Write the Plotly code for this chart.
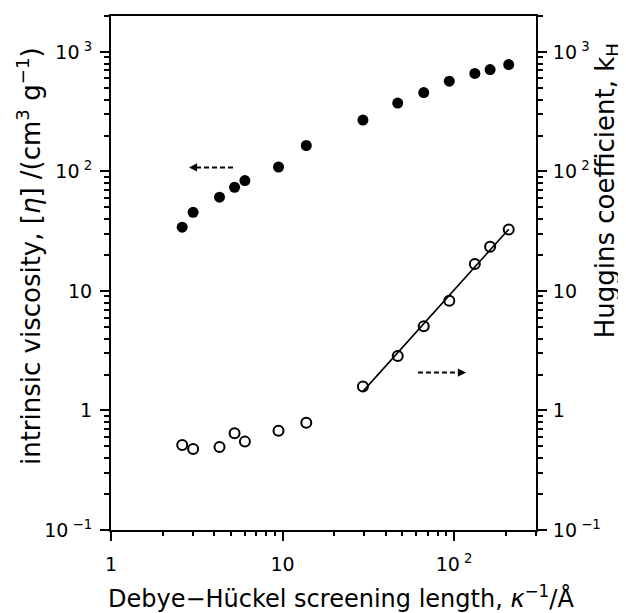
import numpy as np
import plotly.graph_objects as go

# screening length kappa^-1 / Angstrom
screening_length = [2.60, 3.01, 4.29, 5.25, 6.03, 9.47, 13.75, 29.4, 46.9, 66.5, 93.7, 132, 162, 208]
# intrinsic viscosity [eta] / (cm3 g-1)  (left axis, filled)
intrinsic_visc = [34.2, 45.5, 61, 73.8, 83.9, 109, 165, 269, 374, 457, 570, 661, 713, 785]
# Huggins coefficient kH (right axis, open)
huggins = [0.515, 0.477, 0.495, 0.644, 0.549, 0.678, 0.79, 1.59, 2.86, 5.08, 8.3, 16.8, 23.5, 32.7]

tick_vals = [0.1, 1, 10, 100, 1000]
y_tick_text = ["10<sup> \u22121</sup>", "1", "10", "10<sup> 2</sup>", "10<sup> 3</sup>"]
x_tick_vals = [1, 10, 100]
x_tick_text = ["1", "10", "10<sup> 2</sup>"]

FONT = "DejaVu Sans"

# power-law fit through the high screening-length Huggins points
fit_n = 7
lx = np.log10(screening_length[-fit_n:])
ly = np.log10(huggins[-fit_n:])
slope, icpt = np.polyfit(lx, ly, 1)
fit_x = [screening_length[-fit_n], screening_length[-1]]
fit_y = [10 ** (icpt + slope * np.log10(v)) for v in fit_x]

fig = go.Figure()
fig.add_trace(go.Scatter(x=screening_length, y=intrinsic_visc, mode="markers",
                         marker=dict(symbol="circle", size=11, color="black"),
                         showlegend=False))
fig.add_trace(go.Scatter(x=fit_x, y=fit_y, mode="lines", yaxis="y2",
                         line=dict(color="black", width=1.6), showlegend=False))
fig.add_trace(go.Scatter(x=screening_length, y=huggins, mode="markers", yaxis="y2",
                         marker=dict(symbol="circle-open", size=10, color="black",
                                     line=dict(width=2, color="black")),
                         showlegend=False))

minor_y = [m * 10 ** e for e in range(-1, 4) for m in range(2, 10) if m * 10 ** e <= 2000]
minor_x = [m * 10 ** e for e in range(0, 3) for m in range(2, 10) if m * 10 ** e <= 300]

axis_common = dict(type="log", showgrid=False, zeroline=False, showline=True,
                   linecolor="black", linewidth=2, ticks="outside", tickcolor="black",
                   tickwidth=1.5, ticklen=9,
                   tickfont=dict(family=FONT, size=19, color="black"))

# page offset of the plot div (browser body margin)
OFF = 8
W, H = 618, 605
L, R, T, B = 103, 90, 6, 83

fig.update_layout(
    width=W, height=H,
    margin=dict(l=L, r=R, t=T, b=B),
    paper_bgcolor="white", plot_bgcolor="white",
    font=dict(family=FONT, color="black"),
    xaxis=dict(**axis_common, range=[0, np.log10(300)], mirror=True,
               tickvals=x_tick_vals, ticktext=x_tick_text, ticklabelstandoff=7,
               minor=dict(tickvals=minor_x, ticks="outside", ticklen=4,
                          tickcolor="black", tickwidth=1.5)),
    yaxis=dict(**axis_common, range=[-1, np.log10(2000)],
               tickvals=tick_vals, ticktext=y_tick_text, ticklabelstandoff=4,
               minor=dict(tickvals=minor_y, ticks="outside", ticklen=5,
                          tickcolor="black", tickwidth=1.5)),
    yaxis2=dict(**axis_common, range=[-1, np.log10(2000)], overlaying="y", side="right",
                tickvals=tick_vals, ticktext=y_tick_text, ticklabelstandoff=2,
                minor=dict(tickvals=minor_y, ticks="outside", ticklen=5,
                           tickcolor="black", tickwidth=1.5)),
)

pw, ph = W - L - R, H - T - B
def px(v):  # page x pixel -> paper
    return (v - OFF - L) / pw
def py(v):  # page y pixel -> paper
    return (H - B - (v - OFF)) / ph

fig.add_annotation(text="Debye\u2212H\u00fcckel screening length, <i>\u03ba</i><sup>\u22121</sup>/\u00c5",
                   xref="paper", yref="paper", x=px(341), y=py(597), showarrow=False,
                   font=dict(family=FONT, size=24, color="black"), xanchor="center", yanchor="middle")
fig.add_annotation(text="intrinsic viscosity, [<i>\u03b7</i>] /(cm<sup>3</sup> g<sup>\u22121</sup>)",
                   xref="paper", yref="paper", x=px(29), y=py(255), showarrow=False, textangle=-90,
                   font=dict(family=FONT, size=26, color="black"), xanchor="center", yanchor="middle")
fig.add_annotation(text="Huggins coefficient, k<sub>H</sub>",
                   xref="paper", yref="paper", x=px(606), y=py(190), showarrow=False, textangle=-90,
                   font=dict(family=FONT, size=26, color="black"), xanchor="center", yanchor="middle")

# dashed direction arrows
fig.add_shape(type="line", xref="paper", yref="paper", x0=px(196), x1=px(235), y0=py(166), y1=py(166),
              line=dict(color="black", width=2, dash="5px,3px"))
fig.add_annotation(xref="paper", yref="paper", x=px(189), y=py(166), ax=7, ay=0, text="",
                   showarrow=True, arrowhead=2, arrowsize=0.9, arrowwidth=1.8, arrowcolor="black")
fig.add_shape(type="line", xref="paper", yref="paper", x0=px(418), x1=px(458), y0=py(372), y1=py(372),
              line=dict(color="black", width=2, dash="5px,3px"))
fig.add_annotation(xref="paper", yref="paper", x=px(466), y=py(372), ax=-7, ay=0, text="",
                   showarrow=True, arrowhead=2, arrowsize=0.9, arrowwidth=1.8, arrowcolor="black")

fig.write_html("out.html")
